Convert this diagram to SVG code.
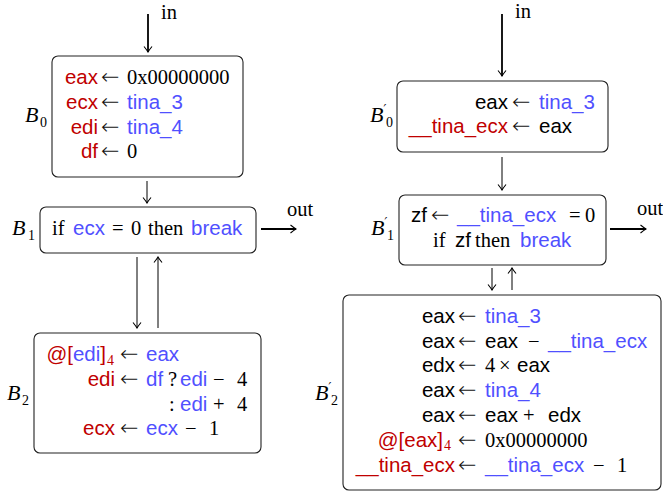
<svg xmlns="http://www.w3.org/2000/svg" width="663" height="492" viewBox="0 0 663 492">
<style>
.box{fill:#fff;stroke:#222;stroke-width:1.1}
.s{font-family:"Liberation Sans",Arial,sans-serif;font-size:20.5px}
.m{font-family:"Liberation Serif","DejaVu Serif",serif;font-size:20.5px}
.a{font-family:"DejaVu Sans",sans-serif;font-weight:200;font-size:22px;fill:#111}
.sub{font-family:"Liberation Serif","DejaVu Serif",serif;font-size:14px}
.lb{font-family:"Liberation Serif","DejaVu Serif",serif;font-size:22px;font-style:italic}
.pr{font-family:"DejaVu Sans",sans-serif;font-size:12px}
.r{fill:#c00000}
.b{fill:#5050ff}
.e{text-anchor:end}
.c1{stroke:#000;stroke-width:1;fill:none}
.c2{stroke:#000;stroke-width:1.8;fill:none}
</style>
<defs>
<marker id="ah" viewBox="-7 -5 8 10" refX="0" refY="0" markerWidth="8" markerHeight="10" markerUnits="userSpaceOnUse" orient="auto">
<path d="M-5.5,-4 Q-1.5,-0.8 0,0 Q-1.5,0.8 -5.5,4" fill="none" stroke="#000" stroke-width="1.1"/>
</marker>
</defs>
<rect width="663" height="492" fill="#fff"/>
<g id="connectors">
<line class="c2" x1="148" y1="14" x2="148" y2="52" marker-end="url(#ah)"/>
<line class="c1" x1="147" y1="181" x2="147" y2="203" marker-end="url(#ah)"/>
<line class="c1" x1="137" y1="257" x2="137" y2="328" marker-end="url(#ah)"/>
<line class="c1" x1="158" y1="328" x2="158" y2="257" marker-end="url(#ah)"/>
<line class="c2" x1="261" y1="229" x2="296" y2="229" marker-end="url(#ah)"/>
<text class="m" x="161" y="19">in</text>
<text class="m" x="287" y="216">out</text>
<line class="c2" x1="502" y1="14" x2="502" y2="76" marker-end="url(#ah)"/>
<line class="c1" x1="502" y1="157" x2="502" y2="190" marker-end="url(#ah)"/>
<line class="c1" x1="492" y1="268" x2="492" y2="290" marker-end="url(#ah)"/>
<line class="c1" x1="512" y1="290" x2="512" y2="268" marker-end="url(#ah)"/>
<line class="c2" x1="610" y1="229" x2="646" y2="229" marker-end="url(#ah)"/>
<text class="m" x="515" y="18">in</text>
<text class="m" x="637" y="215">out</text>
</g>
<g id="B0">
<rect class="box" x="52" y="56" width="191" height="121" rx="6"/>
<text class="lb" x="25" y="122">B</text><text class="sub" x="40" y="127">0</text>
<text class="s r e" x="98" y="84">eax</text><text class="a" x="101" y="84">←</text><text class="m" x="127" y="84">0x00000000</text>
<text class="s r e" x="98" y="109">ecx</text><text class="a" x="101" y="109">←</text><text class="s b" x="127" y="109">tina_3</text>
<text class="s r e" x="98" y="134">edi</text><text class="a" x="101" y="134">←</text><text class="s b" x="127" y="134">tina_4</text>
<text class="s r e" x="98" y="158">df</text><text class="a" x="101" y="158">←</text><text class="m" x="127" y="158">0</text>
</g>
<g id="B1">
<rect class="box" x="40" y="207" width="216" height="46" rx="6"/>
<text class="lb" x="12" y="235">B</text><text class="sub" x="28" y="240">1</text>
<text class="m" x="52" y="235">if</text><text class="s b" x="73" y="235">ecx</text><text class="m" x="112" y="235">=</text><text class="m" x="131" y="235">0</text><text class="m" x="148" y="235">then</text><text class="s b" x="191" y="235">break</text>
</g>
<g id="B2">
<rect class="box" x="34" y="333" width="227" height="120" rx="6"/>
<text class="lb" x="7" y="400">B</text><text class="sub" x="22" y="405">2</text>
<text class="s e" x="106" y="361"><tspan class="r">@[</tspan><tspan class="b">edi</tspan><tspan class="r">]</tspan></text><text class="sub r" x="107" y="365">4</text><text class="a" x="120" y="361">←</text><text class="s b" x="146" y="361">eax</text>
<text class="s r e" x="115" y="386">edi</text><text class="a" x="120" y="386">←</text><text class="s b" x="146" y="386">df</text><text class="m" x="168" y="386">?</text><text class="s b" x="180" y="386">edi</text><text class="m" x="213" y="386">−</text><text class="m" x="237" y="386">4</text>
<text class="m" x="169" y="411">:</text><text class="s b" x="180" y="411">edi</text><text class="m" x="213" y="411">+</text><text class="m" x="237" y="411">4</text>
<text class="s r e" x="115" y="435">ecx</text><text class="a" x="120" y="435">←</text><text class="s b" x="146" y="435">ecx</text><text class="m" x="185" y="435">−</text><text class="m" x="209" y="435">1</text>
</g>
<g id="B0p">
<rect class="box" x="397" y="81" width="211" height="71" rx="6"/>
<text class="lb" x="370" y="122">B<tspan class="pr" dy="-9">′</tspan></text><text class="sub" x="386" y="127">0</text>
<text class="s e" x="508" y="109">eax</text><text class="a" x="512" y="109">←</text><text class="s b" x="539" y="109">tina_3</text>
<text class="s r e" x="508" y="133">__tina_ecx</text><text class="a" x="512" y="133">←</text><text class="s" x="539" y="133">eax</text>
</g>
<g id="B1p">
<rect class="box" x="399" y="195" width="207" height="70" rx="6"/>
<text class="lb" x="371" y="235">B<tspan class="pr" dy="-9">′</tspan></text><text class="sub" x="387" y="240">1</text>
<text class="s" x="411" y="222">zf</text><text class="a" x="431" y="222">←</text><text class="s b" x="457" y="222">__tina_ecx</text><text class="m" x="569" y="222">=</text><text class="m" x="585" y="222">0</text>
<text class="m" x="433" y="247">if</text><text class="s" x="455" y="247">zf</text><text class="m" x="475" y="247">then</text><text class="s b" x="520" y="247">break</text>
</g>
<g id="B2p">
<rect class="box" x="343" y="295" width="318" height="195" rx="6"/>
<text class="lb" x="315" y="400">B<tspan class="pr" dy="-9">′</tspan></text><text class="sub" x="331" y="405">2</text>
<text class="s e" x="455" y="323">eax</text><text class="a" x="458" y="323">←</text><text class="s b" x="485" y="323">tina_3</text>
<text class="s e" x="455" y="348">eax</text><text class="a" x="458" y="348">←</text><text class="s" x="485" y="348">eax</text><text class="m" x="528" y="348">−</text><text class="s b" x="548" y="348">__tina_ecx</text>
<text class="s e" x="455" y="372">edx</text><text class="a" x="458" y="372">←</text><text class="m" x="485" y="372">4</text><text class="m" x="499" y="372">×</text><text class="s" x="517" y="372">eax</text>
<text class="s e" x="455" y="397">eax</text><text class="a" x="458" y="397">←</text><text class="s b" x="485" y="397">tina_4</text>
<text class="s e" x="455" y="422">eax</text><text class="a" x="458" y="422">←</text><text class="s" x="485" y="422">eax</text><text class="m" x="523" y="422">+</text><text class="s" x="548" y="422">edx</text>
<text class="s r e" x="443" y="447">@[eax]</text><text class="sub r" x="444" y="450">4</text><text class="a" x="458" y="447">←</text><text class="m" x="485" y="447">0x00000000</text>
<text class="s r e" x="455" y="472">__tina_ecx</text><text class="a" x="458" y="472">←</text><text class="s b" x="485" y="472">__tina_ecx</text><text class="m" x="593" y="472">−</text><text class="m" x="617" y="472">1</text>
</g>
</svg>
